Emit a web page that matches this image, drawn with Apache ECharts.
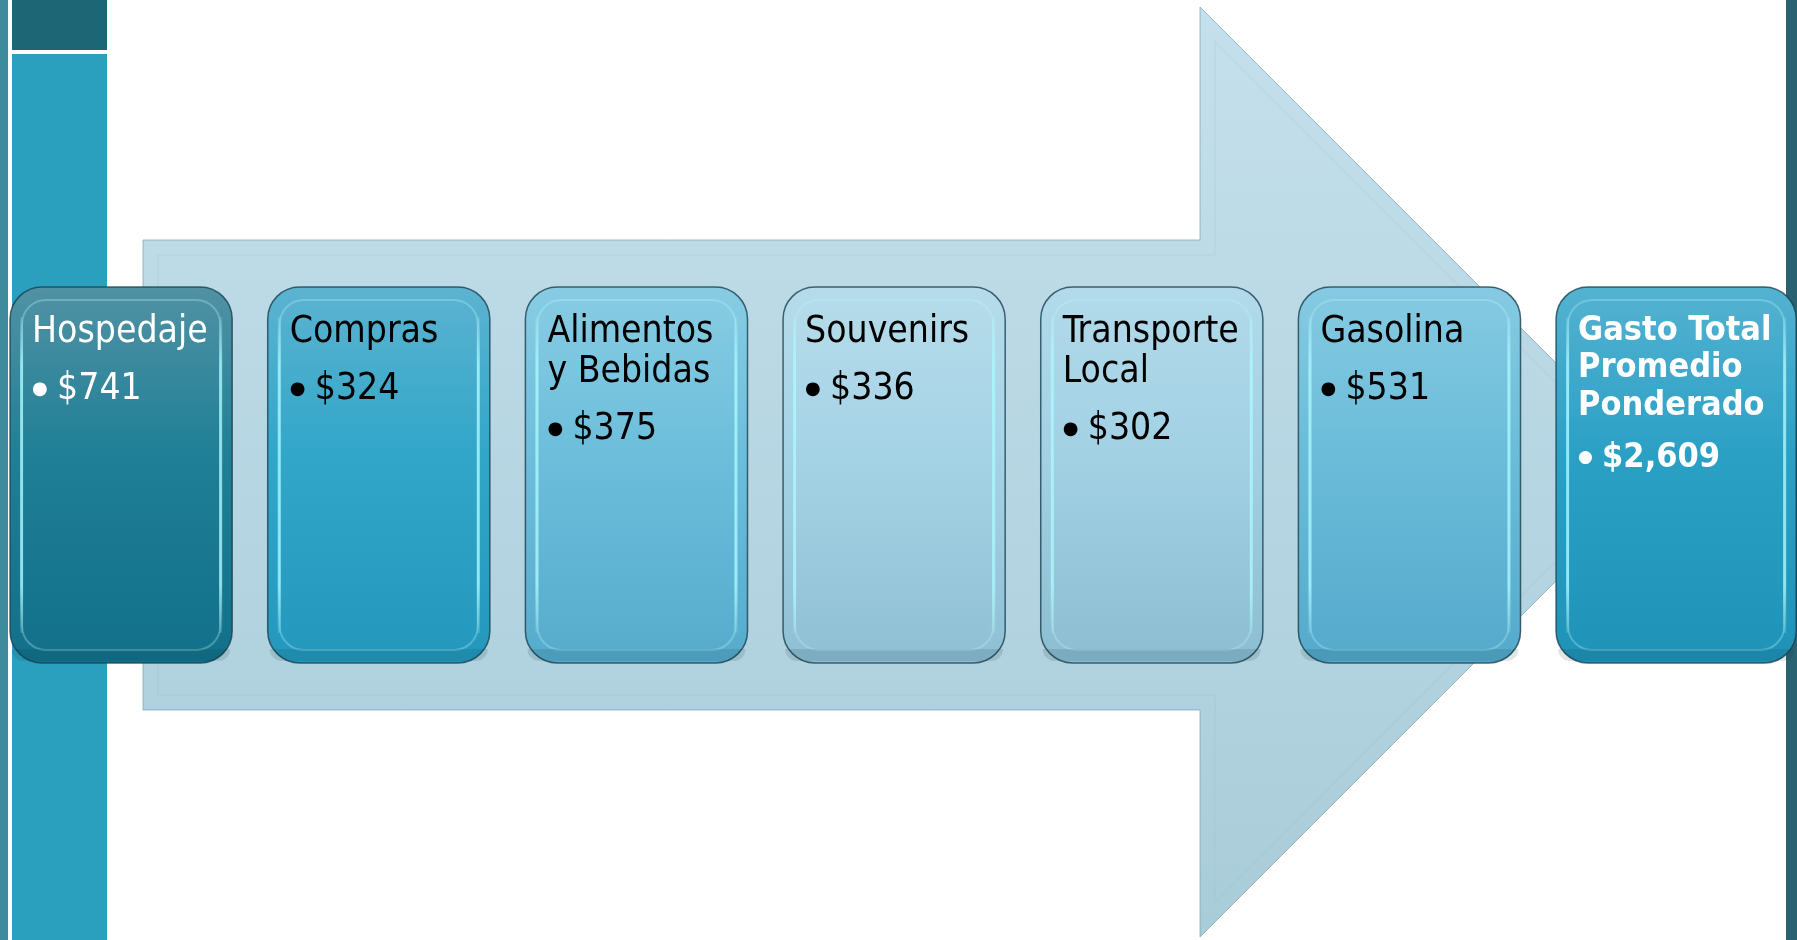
<!DOCTYPE html>
<html>
<head>
<meta charset="UTF-8">
<title></title>
<script type="text/javascript" src="https://cdn.jsdelivr.net/npm/echarts@6/dist/echarts.min.js"></script>
<style>
html, body { margin: 0; padding: 0; background: #fff; }
#main { width: 1797px; height: 940px; }
</style>
</head>
<body>
<div id="main"></div>
<script type="text/javascript">
// datos del diagrama
var categories = ['Hospedaje', 'Compras', 'Alimentos\ny Bebidas', 'Souvenirs', 'Transporte\nLocal', 'Gasolina', 'Gasto Total\nPromedio\nPonderado'];
var amounts = [741, 324, 375, 336, 302, 531, 2609];

// colores de cada caja (arriba, medio, abajo)
var boxFill = [
	['#5192a4', '#1f7f96', '#12708a'],
	['#5cb3d0', '#31a6c9', '#2398bc'],
	['#88cce3', '#6cbedb', '#56abcc'],
	['#b6dcea', '#a5d3e6', '#8fbfd3'],
	['#b2daea', '#a2d1e4', '#8cbdd1'],
	['#86cae2', '#6abcd9', '#55a9cb'],
	['#55b2d1', '#2aa0c5', '#1f93b7']
];
var textColor = ['#ffffff', '#000000', '#000000', '#000000', '#000000', '#000000', '#ffffff'];
var fontName = '"DejaVu Sans Condensed", "DejaVu Sans", Tahoma, sans-serif';

var chart = echarts.init(document.getElementById('main'));

function grad(c) {
	return new echarts.graphic.LinearGradient(0, 0, 0, 1, [
		{ offset: 0, color: c[0] },
		{ offset: 0.45, color: c[1] },
		{ offset: 1, color: c[2] }
	]);
}

function boxText(i) {
	var last = i === categories.length - 1;
	var t = last ? 'tb' : 't';
	var v = last ? 'vb' : 'v';
	var lines = categories[i].split('\n').map(function (s) { return '{' + t + '|' + s + '}'; });
	lines.push('{' + (last ? 'bb' : 'b') + '|●}{' + v + '|$' + amounts[i].toLocaleString('en-US') + '}');
	return lines.join('\n');
}

function renderBox(params, api) {
	var i = api.value(0);
	var p0 = api.coord([i, 1]);
	var p1 = api.coord([i, 0]);
	var band = api.size([1, 0])[0];
	var w = band * 0.862;
	var x = p0[0] - w / 2, y = p0[1], h = p1[1] - p0[1];
	// la última caja queda un poco más ancha, hasta el borde
	if (i === categories.length - 1) {
		w += 18;
	}
	var col = textColor[i];
	var side = new echarts.graphic.LinearGradient(0, 0, 0, 1, [
		{ offset: 0, color: 'rgba(180,250,255,0.15)' },
		{ offset: 0.15, color: 'rgba(170,248,255,0.75)' },
		{ offset: 0.85, color: 'rgba(170,248,255,0.75)' },
		{ offset: 1, color: 'rgba(180,250,255,0.15)' }
	]);
	return {
		type: 'group',
		children: [
			{
				type: 'rect',
				shape: { x: x, y: y, width: w, height: h, r: 32 },
				style: { fill: grad(boxFill[i]), stroke: 'rgba(25,65,80,0.8)', lineWidth: 1.5 }
			},
			{
				type: 'rect',
				shape: { x: x + 12, y: y + 13, width: w - 24, height: h - 26, r: 24 },
				style: { fill: 'none', stroke: 'rgba(185,248,255,0.3)', lineWidth: 2 }
			},
			{
				type: 'rect',
				shape: { x: x + 10, y: y + 30, width: 3, height: h - 60 },
				style: { fill: side }
			},
			{
				type: 'rect',
				shape: { x: x + w - 13, y: y + 30, width: 3, height: h - 60 },
				style: { fill: side }
			},
			{
				type: 'rect',
				shape: { x: x + 2, y: y + h - 14, width: w - 4, height: 12, r: [0, 0, 30, 30] },
				style: { fill: 'rgba(0,40,60,0.12)' }
			},
			{
				type: 'text',
				x: x + 22,
				y: y + 25,
				style: {
					text: boxText(i),
					align: 'left',
					verticalAlign: 'top',
					fill: col,
					fontFamily: fontName,
					rich: {
						t: { fontSize: 37, lineHeight: 40, fill: col, fontFamily: fontName },
						b: { fontSize: 18, lineHeight: 74, width: 25, fill: col, fontFamily: 'DejaVu Sans' },
						v: { fontSize: 37, lineHeight: 74, fill: col, fontFamily: fontName },
						tb: { fontSize: 34, lineHeight: 37.5, fontWeight: 'bold', fill: col, fontFamily: fontName },
						bb: { fontSize: 17, lineHeight: 67, width: 24, fill: col, fontFamily: 'DejaVu Sans' },
						vb: { fontSize: 34, lineHeight: 67, fontWeight: 'bold', fill: col, fontFamily: fontName }
					}
				}
			}
		]
	};
}

var arrowPts = [[143, 240], [1200, 240], [1200, 7], [1665, 472], [1200, 937], [1200, 710], [143, 710]];
var arrowInner = [[158, 255], [1215, 255], [1215, 42], [1645, 472], [1215, 902], [1215, 695], [158, 695]];

var option = {
	animation: false,
	grid: { left: 0, right: 0, top: 287, height: 376 },
	xAxis: { type: 'value', min: -0.47, max: 6.504, show: false },
	yAxis: { type: 'value', min: 0, max: 1, show: false },
	graphic: [
		{ type: 'rect', z: 0, shape: { x: 0, y: 0, width: 8, height: 940 }, style: { fill: '#3d8b9d' } },
		{ type: 'rect', z: 0, shape: { x: 12, y: 0, width: 95, height: 940 }, style: { fill: '#2aa0be' } },
		{ type: 'rect', z: 0, shape: { x: 12, y: 0, width: 95, height: 50 }, style: { fill: '#1c6676' } },
		{ type: 'rect', z: 0, shape: { x: 12, y: 50, width: 95, height: 4 }, style: { fill: '#ffffff' } },
		{ type: 'rect', z: 0, shape: { x: 1786, y: 0, width: 11, height: 940 }, style: { fill: '#2b6272' } },
		{
			type: 'polygon', z: 0,
			shape: { points: arrowPts },
			style: {
				fill: new echarts.graphic.LinearGradient(0, 0, 0, 1, [
					{ offset: 0, color: '#c4e0ec' },
					{ offset: 1, color: '#a9ccd9' }
				]),
				stroke: 'rgba(120,160,178,0.7)', lineWidth: 1
			}
		},
		{
			type: 'polygon', z: 0,
			shape: { points: arrowInner },
			style: { fill: 'none', stroke: 'rgba(150,190,205,0.2)', lineWidth: 1.5 }
		}
	],
	series: [{
		type: 'custom',
		renderItem: renderBox,
		data: amounts.map(function (v, i) { return [i, v]; }),
		z: 5
	}]
};

chart.setOption(option);
</script>
</body>
</html>
